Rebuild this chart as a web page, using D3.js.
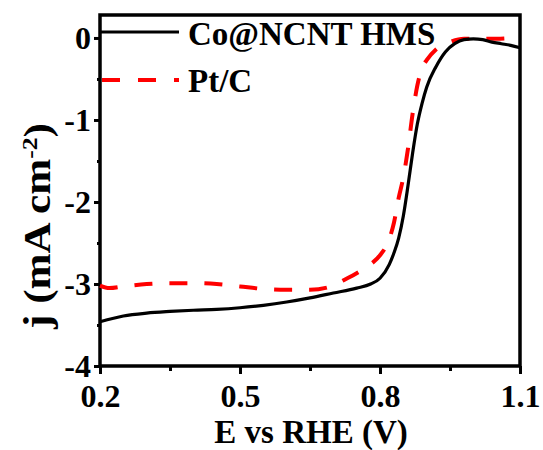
<!DOCTYPE html>
<html><head><meta charset="utf-8">
<script src="https://cdn.jsdelivr.net/npm/d3@7"></script>
<style>body{margin:0;background:#fff}svg text{font-family:"Liberation Serif","Times New Roman",serif;font-weight:bold;fill:#000}</style>
</head><body><svg id="c" width="543" height="450"></svg>
<script>
const coE = [0.2,0.25,0.3,0.35,0.4,0.45,0.5,0.55,0.6,0.65,0.7,0.75,0.78,0.8,0.82,0.83,0.84,0.85,0.86,0.87,0.88,0.89,0.9,0.92,0.94,0.96,0.98,1.0,1.02,1.04,1.06,1.08,1.1];
const coJ = [-3.46,-3.39,-3.355,-3.335,-3.32,-3.31,-3.29,-3.26,-3.22,-3.17,-3.11,-3.05,-3.00,-2.93,-2.76,-2.62,-2.44,-2.17,-1.80,-1.40,-1.05,-0.80,-0.60,-0.35,-0.17,-0.07,-0.02,-0.01,-0.02,-0.05,-0.07,-0.09,-0.12];
const ptE = [0.2,0.22,0.25,0.3,0.35,0.4,0.45,0.5,0.55,0.6,0.65,0.7,0.72,0.75,0.78,0.8,0.82,0.83,0.84,0.85,0.86,0.87,0.88,0.89,0.9,0.92,0.95,0.98,1.0,1.05,1.1];
const ptJ = [-3.02,-3.05,-3.03,-3.00,-2.99,-2.99,-3.00,-3.03,-3.06,-3.07,-3.07,-3.02,-2.96,-2.87,-2.76,-2.65,-2.45,-2.25,-1.95,-1.70,-1.35,-0.92,-0.58,-0.37,-0.27,-0.14,-0.05,-0.01,-0.01,-0.01,0.01];
const xTicks = [0.2,0.5,0.8,1.1];
const xMinor = [0.35,0.65,0.95];
const yTicks = [0,-1,-2,-3,-4];
const yMinor = [-0.5,-1.5,-2.5,-3.5];
const seriesNames = ["Co@NCNT HMS","Pt/C"];

const svg = d3.select("#c");
const L=100,R=520,T=15,B=366;
const x = d3.scaleLinear().domain([0.2,1.1]).range([L,R]);
const y = d3.scaleLinear().domain([-4,0.28]).range([B,T]);

const xa = svg.append("g").attr("transform",`translate(0,${B})`)
  .call(d3.axisBottom(x).tickValues(xTicks).tickFormat(d3.format(".1f")).tickSize(8).tickPadding(10));
svg.append("g").attr("transform",`translate(0,${B})`)
  .call(d3.axisBottom(x).tickValues(xMinor).tickFormat("").tickSize(5));
const ya = svg.append("g").attr("transform",`translate(${L},0)`)
  .call(d3.axisLeft(y).tickValues(yTicks).tickFormat(d3.format("d")).tickSize(6).tickPadding(3));
svg.append("g").attr("transform",`translate(${L},0)`)
  .call(d3.axisLeft(y).tickValues(yMinor).tickFormat("").tickSize(3));
svg.selectAll(".domain").remove();
svg.selectAll(".tick line").attr("stroke","#000").attr("stroke-width",3);
svg.selectAll(".tick text").style("font-size","32px").attr("fill","#000");
xa.selectAll(".tick text").attr("dy","0.71em");
ya.selectAll(".tick text").attr("dy","0.34em").text(d=> d===0?"0":"-"+Math.abs(d));

svg.append("rect").attr("x",L).attr("y",T).attr("width",R-L).attr("height",B-T)
  .attr("fill","none").attr("stroke","#000").attr("stroke-width",3.5);

const line = d3.line().x(d=>x(d[0])).y(d=>y(d[1])).curve(d3.curveMonotoneX);
svg.append("path").datum(ptE.map((e,i)=>[e,ptJ[i]])).attr("d",line)
  .attr("fill","none").attr("stroke","#ff0000").attr("stroke-width",4).attr("stroke-dasharray","18,17");
svg.append("path").datum(coE.map((e,i)=>[e,coJ[i]])).attr("d",line)
  .attr("fill","none").attr("stroke","#000").attr("stroke-width",3.2);

svg.append("line").attr("x1",101).attr("x2",179).attr("y1",32).attr("y2",32).attr("stroke","#000").attr("stroke-width",3.2);
svg.append("line").attr("x1",102).attr("x2",179).attr("y1",80).attr("y2",80).attr("stroke","#ff0000").attr("stroke-width",4).attr("stroke-dasharray","18,18");
svg.append("text").attr("x",188).attr("y",45).style("font-size","33px").text(seriesNames[0]);
svg.append("text").attr("x",188).attr("y",92).style("font-size","33px").text(seriesNames[1]);

svg.append("text").attr("x",311).attr("y",443).attr("text-anchor","middle").style("font-size","33px").text("E vs RHE (V)");
const yt = svg.append("text").attr("transform","translate(50,226) rotate(-90)").attr("text-anchor","middle").style("font-size","37px")
  .attr("textLength",206).attr("lengthAdjust","spacingAndGlyphs");
yt.append("tspan").text("j (mA cm");
yt.append("tspan").attr("dy",-13).style("font-size","22px").text("-2");
yt.append("tspan").attr("dy",13).text(")");
</script></body></html>
